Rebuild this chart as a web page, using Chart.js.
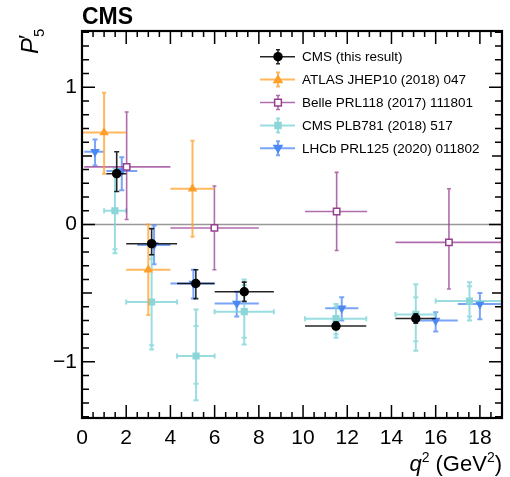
<!DOCTYPE html>
<html lang="en">
<head>
<meta charset="UTF-8">
<title>P5' versus q2</title>
<script src="https://cdn.jsdelivr.net/npm/chart.js"></script>
<style>
    body { margin: 0; background: #fff; }
    canvas { display: block; }
</style>
</head>
<body>
<canvas id="p5Chart" width="510" height="477"></canvas>
<script>
    // axis ticks
    const xTicks = [0, 2, 4, 6, 8, 10, 12, 14, 16, 18];
    const yTicks = [-1, 0, 1];
    const legendLabels = ['CMS (this result)', 'ATLAS JHEP10 (2018) 047', 'Belle PRL118 (2017) 111801',
                          'CMS PLB781 (2018) 517', 'LHCb PRL125 (2020) 011802'];

    // CMS (this result)
    const cmsX   = [1.57, 3.15, 5.15, 7.34, 11.49, 15.1];
    const cmsXLo = [1.1, 2.0, 4.3, 6.0, 10.09, 14.18];
    const cmsXHi = [2.0, 4.3, 6.0, 8.68, 12.86, 16.0];
    const cmsY   = [0.37, -0.14, -0.43, -0.49, -0.74, -0.685];
    const cmsYLo = [0.24, -0.22, -0.54, -0.56, -0.765, -0.72];
    const cmsYHi = [0.53, -0.03, -0.33, -0.42, -0.71, -0.65];

    // ATLAS
    const atlasX   = [1.0, 3.0, 5.0];
    const atlasXLo = [0.04, 2.0, 4.0];
    const atlasXHi = [2.0, 4.0, 6.0];
    const atlasY   = [0.67, -0.33, 0.26];
    const atlasYLo = [0.37, -0.66, -0.09];
    const atlasYHi = [0.96, 0.0, 0.61];

    // Belle
    const belleX   = [2.02, 5.99, 11.52, 16.6];
    const belleXLo = [0.1, 4.0, 10.09, 14.18];
    const belleXHi = [4.0, 8.0, 12.9, 19.0];
    const belleY   = [0.42, -0.025, 0.095, -0.13];
    const belleYLo = [0.036, -0.33, -0.19, -0.47];
    const belleYHi = [0.82, 0.28, 0.38, 0.26];

    // CMS PLB781 (total and stat errors)
    const cms18X      = [1.49, 3.15, 5.16, 7.34, 11.49, 15.1, 17.53];
    const cms18XLo    = [1.0, 2.0, 4.3, 6.0, 10.09, 14.18, 16.0];
    const cms18XHi    = [2.0, 4.3, 6.0, 8.68, 12.86, 16.0, 19.0];
    const cms18Y      = [0.10, -0.565, -0.958, -0.635, -0.686, -0.655, -0.558];
    const cms18YLo    = [-0.21, -0.91, -1.28, -0.875, -0.825, -0.92, -0.70];
    const cms18YHi    = [0.41, -0.22, -0.62, -0.40, -0.58, -0.435, -0.42];
    const cms18StatLo = [-0.18, -0.88, -1.16, -0.825, -0.80, -0.85, -0.67];
    const cms18StatHi = [0.38, -0.25, -0.74, -0.44, -0.60, -0.53, -0.45];

    // LHCb
    const lhcbX   = [0.59, 1.8, 3.26, 5.04, 7.0, 11.75, 16.0, 18.0];
    const lhcbXLo = [0.1, 1.1, 2.5, 4.0, 6.0, 11.0, 15.0, 17.0];
    const lhcbXHi = [0.98, 2.5, 4.0, 6.0, 8.0, 12.5, 17.0, 19.0];
    const lhcbY   = [0.53, 0.39, -0.15, -0.43, -0.575, -0.61, -0.70, -0.58];
    const lhcbYLo = [0.43, 0.25, -0.29, -0.54, -0.67, -0.70, -0.78, -0.69];
    const lhcbYHi = [0.62, 0.49, -0.007, -0.33, -0.49, -0.53, -0.64, -0.50];

    const FONT = '"Liberation Sans", Arial, Helvetica, sans-serif';

    function makeSet(label, xs, ys, err, style) {
        return Object.assign({
            label: label,
            data: xs.map((v, i) => ({ x: v, y: ys[i] })),
            err: err,
            showLine: false,
            borderWidth: 1.5,
            pointHoverRadius: 0
        }, style);
    }

    const datasets = [
        makeSet(legendLabels[0], cmsX, cmsY,
            { xLo: cmsXLo, xHi: cmsXHi, yLo: cmsYLo, yHi: cmsYHi, color: 'rgba(0,0,0,0.85)', width: 1.6, cap: 5 },
            { pointStyle: 'circle', pointRadius: 4, backgroundColor: '#000', borderColor: '#000' }),
        makeSet(legendLabels[1], atlasX, atlasY,
            { xLo: atlasXLo, xHi: atlasXHi, yLo: atlasYLo, yHi: atlasYHi, color: 'rgba(255,160,40,0.75)', width: 2, cap: 4 },
            { pointStyle: 'triangle', pointRadius: 4, backgroundColor: '#ff9f2a', borderColor: '#ff9f2a' }),
        makeSet(legendLabels[2], belleX, belleY,
            { xLo: belleXLo, xHi: belleXHi, yLo: belleYLo, yHi: belleYHi, color: 'rgba(150,60,145,0.75)', width: 1.6, cap: 4 },
            { pointStyle: 'rect', pointRadius: 4.5, backgroundColor: '#fff', borderColor: '#96408f' }),
        makeSet(legendLabels[3], cms18X, cms18Y,
            { xLo: cms18XLo, xHi: cms18XHi, yLo: cms18YLo, yHi: cms18YHi, statLo: cms18StatLo, statHi: cms18StatHi,
              color: 'rgba(120,210,215,0.75)', width: 2, cap: 5, xCap: true },
            { pointStyle: 'rect', pointRadius: 4, backgroundColor: '#8dd6d8', borderColor: '#8dd6d8' }),
        makeSet(legendLabels[4], lhcbX, lhcbY,
            { xLo: lhcbXLo, xHi: lhcbXHi, yLo: lhcbYLo, yHi: lhcbYHi, color: 'rgba(75,135,245,0.75)', width: 2, cap: 5 },
            { pointStyle: 'triangle', pointRotation: 180, pointRadius: 4, backgroundColor: '#4c88f2', borderColor: '#4c88f2' })
    ];

    function drawErrors(ctx, xs, ys, d) {
        const e = d.err;
        ctx.save();
        ctx.strokeStyle = e.color;
        ctx.lineWidth = e.width;
        d.data.forEach((p, i) => {
            const px = xs.getPixelForValue(p.x);
            const py = ys.getPixelForValue(p.y);
            const x0 = xs.getPixelForValue(e.xLo[i]), x1 = xs.getPixelForValue(e.xHi[i]);
            const y0 = ys.getPixelForValue(e.yLo[i]), y1 = ys.getPixelForValue(e.yHi[i]);
            ctx.beginPath();
            ctx.moveTo(x0, py); ctx.lineTo(x1, py);
            ctx.moveTo(px, y0); ctx.lineTo(px, y1);
            ctx.moveTo(px - e.cap / 2, y0); ctx.lineTo(px + e.cap / 2, y0);
            ctx.moveTo(px - e.cap / 2, y1); ctx.lineTo(px + e.cap / 2, y1);
            if (e.xCap) {
                ctx.moveTo(x0, py - e.cap / 2); ctx.lineTo(x0, py + e.cap / 2);
                ctx.moveTo(x1, py - e.cap / 2); ctx.lineTo(x1, py + e.cap / 2);
            }
            if (e.statLo) {
                const s0 = ys.getPixelForValue(e.statLo[i]), s1 = ys.getPixelForValue(e.statHi[i]);
                ctx.moveTo(px - e.cap / 2, s0); ctx.lineTo(px + e.cap / 2, s0);
                ctx.moveTo(px - e.cap / 2, s1); ctx.lineTo(px + e.cap / 2, s1);
            }
            ctx.stroke();
        });
        ctx.restore();
    }

    const errorBars = {
        id: 'errorBars',
        beforeDatasetDraw(chart, args) {
            const d = chart.data.datasets[args.index];
            drawErrors(chart.ctx, chart.scales.x, chart.scales.y, d);
        }
    };

    const frame = {
        id: 'frame',
        beforeDatasetsDraw(chart) {
            const { ctx, chartArea: a, scales: { y } } = chart;
            const y0 = y.getPixelForValue(0);
            ctx.save();
            ctx.strokeStyle = '#999';
            ctx.lineWidth = 1.5;
            ctx.beginPath();
            ctx.moveTo(a.left, y0); ctx.lineTo(a.right, y0);
            ctx.stroke();
            ctx.restore();
        },
        afterDatasetsDraw(chart) {
            const { ctx, chartArea: a, scales: { x, y } } = chart;
            ctx.save();
            ctx.strokeStyle = '#000';
            ctx.lineWidth = 1.5;
            ctx.beginPath();
            for (let i = 1; i < 38; i++) {
                const len = i % 4 === 0 ? 13 : 6;
                const px = x.getPixelForValue(i * 0.5);
                ctx.moveTo(px, a.bottom); ctx.lineTo(px, a.bottom - len);
                ctx.moveTo(px, a.top); ctx.lineTo(px, a.top + len);
            }
            for (let i = -14; i <= 14; i++) {
                const len = i % 10 === 0 ? 13 : (i % 5 === 0 ? 10 : 7);
                const py = y.getPixelForValue(i / 10);
                ctx.moveTo(a.left, py); ctx.lineTo(a.left + len, py);
                ctx.moveTo(a.right, py); ctx.lineTo(a.right - len, py);
            }
            ctx.stroke();
            ctx.lineWidth = 2.2;
            ctx.strokeRect(a.left, a.top, a.right - a.left, a.bottom - a.top);
            ctx.restore();
        },
        afterDraw(chart) {
            const { ctx, chartArea: a } = chart;
            ctx.save();
            ctx.fillStyle = '#000';
            ctx.textBaseline = 'alphabetic';

            // CMS label
            ctx.font = 'bold 23px ' + FONT;
            ctx.fillText('CMS', a.left, 24);

            // y title P'_5, rotated
            ctx.save();
            ctx.translate(38, 54);
            ctx.rotate(-Math.PI / 2);
            ctx.font = 'italic 24px ' + FONT;
            ctx.fillText('P', 0, 0);
            const pw = ctx.measureText('P').width;
            ctx.font = '22px ' + FONT;
            ctx.fillText('\u2032', pw - 1, -4);
            ctx.font = '15px ' + FONT;
            ctx.fillText('5', pw + 1, 6);
            ctx.restore();

            // x title q^2 (GeV^2), right aligned
            const parts = [
                { t: 'q', f: 'italic 22px ' + FONT, dy: 0 },
                { t: '2', f: '14px ' + FONT, dy: -9 },
                { t: ' (GeV', f: '22px ' + FONT, dy: 0 },
                { t: '2', f: '14px ' + FONT, dy: -9 },
                { t: ')', f: '22px ' + FONT, dy: 0 }
            ];
            let total = 0;
            parts.forEach(p => { ctx.font = p.f; p.w = ctx.measureText(p.t).width; total += p.w; });
            let tx = a.right - total;
            parts.forEach(p => { ctx.font = p.f; ctx.fillText(p.t, tx, 471 + p.dy); tx += p.w; });

            // legend
            const rowY = 56.7, rowStep = 22.9;
            chart.data.datasets.forEach((d, i) => {
                const cy = rowY + i * rowStep;
                const e = d.err;
                ctx.strokeStyle = e.color;
                ctx.lineWidth = e.width;
                ctx.beginPath();
                ctx.moveTo(260, cy); ctx.lineTo(295, cy);
                ctx.moveTo(278, cy - 7); ctx.lineTo(278, cy + 7);
                ctx.moveTo(276, cy - 7); ctx.lineTo(280, cy - 7);
                ctx.moveTo(276, cy + 7); ctx.lineTo(280, cy + 7);
                ctx.stroke();
                ctx.fillStyle = d.backgroundColor;
                ctx.strokeStyle = d.borderColor;
                ctx.lineWidth = 1.5;
                ctx.beginPath();
                const r = d.pointRadius;
                if (d.pointStyle === 'circle') {
                    ctx.arc(278, cy, r, 0, Math.PI * 2);
                } else if (d.pointStyle === 'rect') {
                    ctx.rect(278 - r * 0.75, cy - r * 0.75, r * 1.5, r * 1.5);
                } else {
                    const s = d.pointRotation ? -1 : 1;
                    ctx.moveTo(278, cy - s * r);
                    ctx.lineTo(278 + r, cy + s * r * 0.7);
                    ctx.lineTo(278 - r, cy + s * r * 0.7);
                    ctx.closePath();
                }
                ctx.fill(); ctx.stroke();
                ctx.fillStyle = '#000';
                ctx.font = '13.5px ' + FONT;
                ctx.textBaseline = 'middle';
                ctx.fillText(d.label, 302, cy + 0.5);
                ctx.textBaseline = 'alphabetic';
            });
            ctx.restore();
        }
    };

    new Chart(document.getElementById('p5Chart').getContext('2d'), {
        type: 'scatter',
        data: { datasets: datasets },
        options: {
            responsive: false,
            animation: false,
            devicePixelRatio: 1,
            layout: { padding: { top: 31, right: 8, left: 0, bottom: 0 } },
            plugins: { legend: { display: false }, tooltip: { enabled: false } },
            scales: {
                x: {
                    type: 'linear', min: 0, max: 19,
                    grid: { display: false, drawTicks: false },
                    border: { display: false },
                    afterFit: s => { s.height = 59; },
                    afterBuildTicks: s => { s.ticks = xTicks.map(v => ({ value: v })); },
                    ticks: { color: '#000', padding: 8, maxRotation: 0, autoSkip: false,
                             font: { family: FONT, size: 21 } }
                },
                y: {
                    type: 'linear', min: -1.41, max: 1.41,
                    grid: { display: false, drawTicks: false },
                    border: { display: false },
                    afterFit: s => { s.width = 82; },
                    afterBuildTicks: s => { s.ticks = yTicks.map(v => ({ value: v })); },
                    ticks: { color: '#000', padding: 5, font: { family: FONT, size: 21 },
                             callback: v => v < 0 ? '\u2212' + Math.abs(v) : String(v) }
                }
            }
        },
        plugins: [errorBars, frame]
    });
</script>
</body>
</html>
